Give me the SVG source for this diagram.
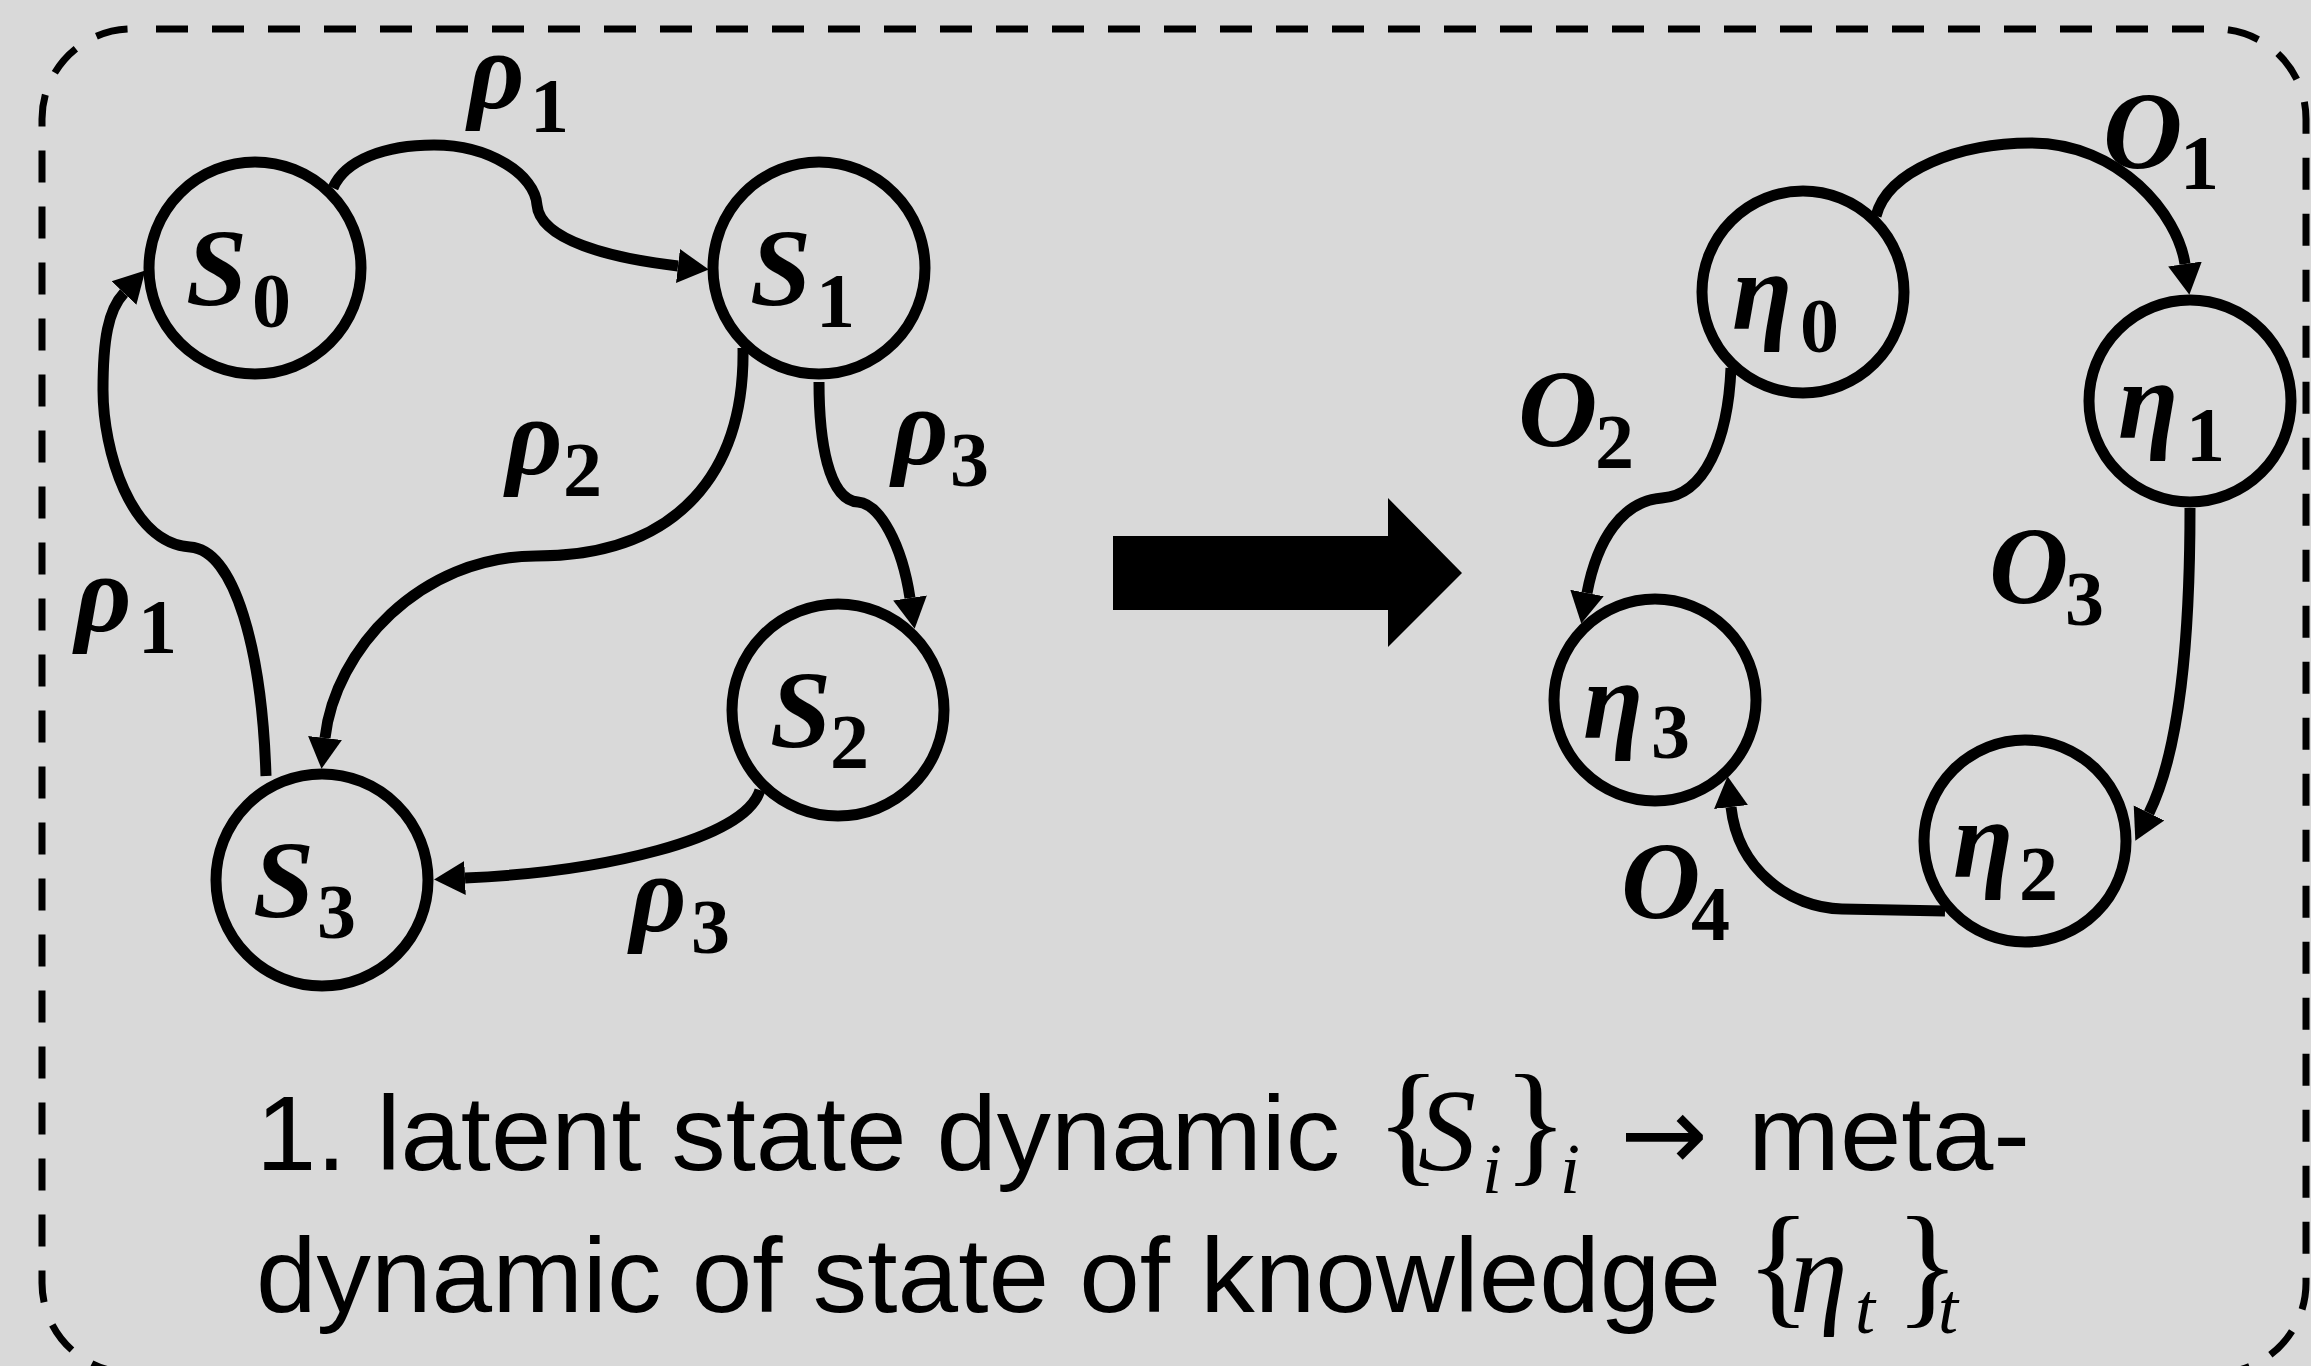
<svg xmlns="http://www.w3.org/2000/svg" width="2311" height="1366" viewBox="0 0 2311 1366">
<style>
.bg{fill:#d9d9d9}
.frame{fill:none;stroke:#000;stroke-width:7;stroke-dasharray:32 24;stroke-dashoffset:32}
.node{fill:none;stroke:#000;stroke-width:11}
.edge{fill:none;stroke:#000;stroke-width:11;marker-end:url(#ah)}
.lbl{font-family:"Liberation Serif","DejaVu Serif",serif;font-weight:bold;font-style:italic;font-size:110px;fill:#000}
.sub{font-family:"Liberation Serif","DejaVu Serif",serif;font-weight:bold;font-style:normal;font-size:78px;fill:#000}
.cap{font-family:"Liberation Sans","DejaVu Sans",sans-serif;font-size:105px;fill:#000}
.math{font-family:"Liberation Serif","DejaVu Serif",serif;font-size:112px;fill:#000}
.mi{font-style:italic;font-size:116px}
.msub{font-style:italic;font-size:72px}
.br{font-style:normal;font-size:135px}
</style>
<defs>
<marker id="ah" viewBox="0 -20 34 40" refX="0" refY="0" markerWidth="34" markerHeight="40" markerUnits="userSpaceOnUse" orient="auto">
<path d="M0,-17 L31,0 L0,17 Z" fill="#000"/>
</marker>
</defs>
<rect class="bg" x="0" y="0" width="2311" height="1366"/>
<g id="frame">
<rect class="frame" x="42" y="29" width="2264" height="1344" rx="90" ry="90"/>
</g>
<g id="connectors">
<path class="edge" d="M333 188 C345 160 385 145 434 145 C490 145 535 175 537 205 C540 240 610 258 678 266"/>
<path class="edge" d="M743 348 C745 470 680 556 536 556 C420 556 335 650 325 738"/>
<path class="edge" d="M819 382 C819 440 828 500 858 502 C880 504 902 545 910 598"/>
<path class="edge" d="M760 790 C745 840 600 872 465 878"/>
<path class="edge" d="M266 776 C262 650 235 550 190 547 C130 543 103 450 103 390 C103 340 108 310 124 293"/>
<path class="edge" d="M1876 216 C1888 170 1960 143 2031 143 C2120 143 2178 215 2185 264"/>
<path class="edge" d="M1731 368 C1728 440 1705 495 1662 498 C1622 501 1597 540 1587 593"/>
<path class="edge" d="M2190 508 C2190 640 2180 750 2149 813"/>
<path class="edge" d="M1945 911 L1842 909 C1790 908 1738 870 1731 807"/>
</g>
<g id="node-S0"><circle class="node" cx="255" cy="268" r="106"/><text class="lbl" x="186" y="305">S<tspan class="sub" x="252" y="327">0</tspan></text></g>
<g id="node-S1"><circle class="node" cx="819" cy="268" r="106"/><text class="lbl" x="750" y="305">S<tspan class="sub" x="816" y="327">1</tspan></text></g>
<g id="node-S2"><circle class="node" cx="838" cy="710" r="106"/><text class="lbl" x="770" y="747">S<tspan class="sub" x="830" y="768">2</tspan></text></g>
<g id="node-S3"><circle class="node" cx="322" cy="880" r="106"/><text class="lbl" x="253" y="917">S<tspan class="sub" x="317" y="938">3</tspan></text></g>
<g id="node-eta0"><circle class="node" cx="1803" cy="292" r="101"/><text class="lbl" x="1732" y="329">η<tspan class="sub" x="1800" y="352">0</tspan></text></g>
<g id="node-eta1"><circle class="node" cx="2190" cy="401" r="101"/><text class="lbl" x="2118" y="438">η<tspan class="sub" x="2186" y="461">1</tspan></text></g>
<g id="node-eta2"><circle class="node" cx="2025" cy="841" r="101"/><text class="lbl" x="1953" y="877">η<tspan class="sub" x="2019" y="900">2</tspan></text></g>
<g id="node-eta3"><circle class="node" cx="1655" cy="700" r="101"/><text class="lbl" x="1583" y="738">η<tspan class="sub" x="1651" y="758">3</tspan></text></g>
<g id="edge-labels">
<text class="lbl" x="468" y="108">ρ<tspan class="sub" x="530" y="132">1</tspan></text>
<text class="lbl" x="506" y="474">ρ<tspan class="sub" x="563" y="496">2</tspan></text>
<text class="lbl" x="892" y="464">ρ<tspan class="sub" x="950" y="486">3</tspan></text>
<text class="lbl" x="75" y="631">ρ<tspan class="sub" x="138" y="653">1</tspan></text>
<text class="lbl" x="630" y="931">ρ<tspan class="sub" x="691" y="953">3</tspan></text>
<text class="lbl" x="2103" y="168">O<tspan class="sub" x="2180" y="189">1</tspan></text>
<text class="lbl" x="1518" y="446">O<tspan class="sub" x="1595" y="468">2</tspan></text>
<text class="lbl" x="1989" y="603">O<tspan class="sub" x="2065" y="625">3</tspan></text>
<text class="lbl" x="1621" y="918">O<tspan class="sub" x="1691" y="940">4</tspan></text>
</g>
<g id="big-arrow">
<polygon points="1113,536 1388,536 1388,498 1462,573 1388,647 1388,610 1113,610" fill="#000"/>
</g>
<g id="caption">
<text class="cap" x="256" y="1170" textLength="1084" lengthAdjust="spacingAndGlyphs">1. latent state dynamic</text>
<text class="math"><tspan class="br" x="1376" y="1168">{</tspan><tspan class="mi" x="1418" y="1170">S</tspan><tspan class="msub" x="1482" y="1193">i</tspan><tspan class="br" x="1503" y="1168">}</tspan><tspan class="msub" x="1560" y="1193">i</tspan></text>
<text class="cap" x="1620" y="1170" style="font-family:'DejaVu Sans',sans-serif">→</text>
<text class="cap" x="1748" y="1170" textLength="282" lengthAdjust="spacingAndGlyphs">meta-</text>
<text class="cap" x="256" y="1312" textLength="1465" lengthAdjust="spacingAndGlyphs">dynamic of state of knowledge</text>
<text class="math"><tspan class="br" x="1746" y="1310">{</tspan><tspan class="mi" x="1790" y="1312">η</tspan><tspan class="msub" x="1855" y="1333">t</tspan><tspan class="br" x="1895" y="1310">}</tspan><tspan class="msub" x="1938" y="1333">t</tspan></text>
</g>
</svg>
